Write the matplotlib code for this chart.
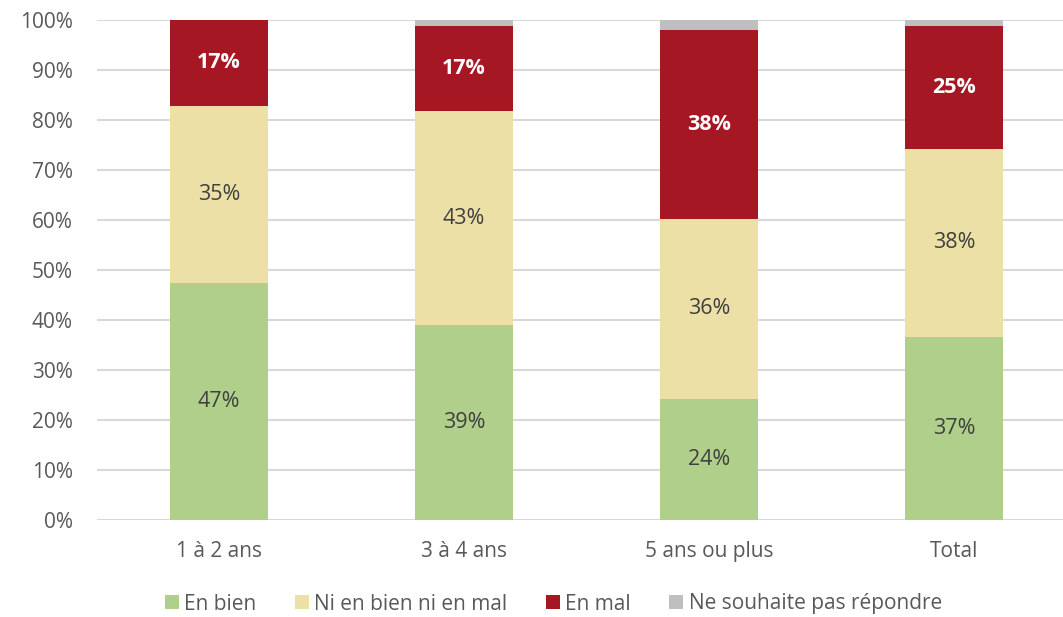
import numpy as np
from matplotlib import pyplot as plt

categories = ["1 à 2 ans", "3 à 4 ans", "5 ans ou plus", "Total"]
series_names = ["En bien", "Ni en bien ni en mal", "En mal", "Ne souhaite pas répondre"]
en_bien = [47.4, 39.0, 24.2, 36.6]
ni_bien_ni_mal = [35.4, 42.8, 36.0, 37.6]
en_mal = [17.2, 17.1, 37.9, 24.7]
ne_souhaite_pas = [0.0, 1.1, 1.9, 1.1]
yticks = [0, 10, 20, 30, 40, 50, 60, 70, 80, 90, 100]

colors = ["#AFCF8A", "#EDE0A6", "#A51722", "#BFBFBF"]
text_colors = ["#404040", "#404040", "white", None]

plt.rcParams['font.family'] = ['Open Sans', 'DejaVu Sans']

fig = plt.figure(figsize=(10.63, 6.17), dpi=100)
ax = fig.add_axes([96.5 / 1063, 97 / 617, 980 / 1063, 500 / 617])

x = np.arange(len(categories))
bottom = np.zeros(len(categories))
series = [en_bien, ni_bien_ni_mal, en_mal, ne_souhaite_pas]

for vals, name, col, tcol in zip(series, series_names, colors, text_colors):
    vals = np.array(vals)
    ax.bar(x, vals, 0.4, bottom=bottom, color=col, label=name, zorder=3)
    if tcol is not None:
        for xi, b, v in zip(x, bottom, vals):
            ax.text(xi, b + v / 2, f"{round(v):.0f}%", ha="center", va="center",
                    color=tcol, fontsize=15.5,
                    fontweight="bold" if tcol == "white" else "normal", zorder=4)
    bottom += vals

ax.set_xlim(-0.5, 3.5)
ax.set_ylim(0, 100)
ax.set_yticks(yticks)
ax.set_yticklabels([f"{t}%" for t in yticks])
ax.set_xticks(x)
ax.set_xticklabels(categories)
ax.tick_params(axis="both", length=0, labelsize=15, labelcolor="#595959")
ax.tick_params(axis="y", pad=17)
ax.tick_params(axis="x", pad=15)
ax.grid(axis="y", color="#D9D9D9", linewidth=1.5, zorder=0)
for s in ax.spines.values():
    s.set_visible(False)

fig.legend(loc="center", bbox_to_anchor=(553.5 / 1063, 1 - 604 / 617), ncol=4,
           frameon=False, fontsize=15, handlelength=0.67, handleheight=0.67,
           handletextpad=0.25, columnspacing=1.85, labelcolor="#595959")

fig.savefig("out.png", dpi=100)
